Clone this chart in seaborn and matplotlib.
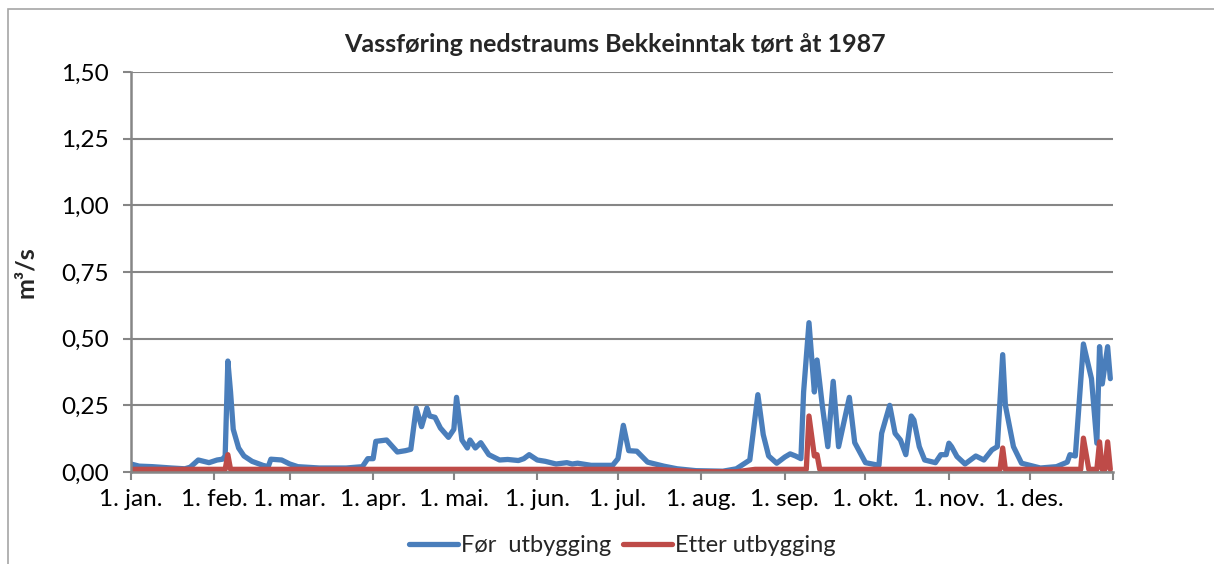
import matplotlib
matplotlib.use("Agg")
import matplotlib.pyplot as plt
import seaborn as sns
import pandas as pd
from matplotlib.lines import Line2D
from matplotlib.patches import Rectangle

# ---- data (day of year 1987, 0 = 1. jan.) ----
month_labels = ["1. jan.", "1. feb.", "1. mar.", "1. apr.", "1. mai.", "1. jun.",
                "1. jul.", "1. aug.", "1. sep.", "1. okt.", "1. nov.", "1. des.", ""]
month_starts = [0, 31, 59, 90, 120, 151, 181, 212, 243, 273, 304, 334, 365]

for_days = [0, 3, 8, 15, 20, 22, 25, 29, 32, 34, 35, 36, 37, 38, 40, 42, 45, 49, 51, 52,
            56, 59, 62, 70, 80, 86, 88, 90, 91, 95, 99, 102, 104, 106, 108, 110, 111, 113,
            115, 118, 120, 121, 123, 125, 126, 128, 130, 133, 137, 140, 144, 146, 148, 151,
            154, 158, 162, 164, 166, 171, 179, 181, 183, 185, 188, 192, 198, 203, 210, 220,
            225, 230, 233, 235, 237, 240, 243, 245, 247, 249, 250, 252, 254, 255, 257, 259,
            261, 263, 267, 269, 273, 278, 279, 282, 284, 286, 288, 290, 291, 293, 295, 299,
            301, 303, 304, 305, 307, 310, 314, 317, 320, 322, 324, 325, 328, 331, 338, 344,
            348, 349, 351, 354, 357, 359, 360, 361, 363, 364]
for_vals = [0.030, 0.022, 0.020, 0.015, 0.012, 0.018, 0.045, 0.035, 0.045, 0.048, 0.060,
            0.416, 0.300, 0.160, 0.090, 0.060, 0.040, 0.025, 0.020, 0.048, 0.045, 0.030,
            0.020, 0.015, 0.015, 0.020, 0.050, 0.050, 0.115, 0.120, 0.075, 0.080, 0.085,
            0.240, 0.170, 0.240, 0.210, 0.205, 0.165, 0.130, 0.160, 0.280, 0.120, 0.090,
            0.120, 0.090, 0.110, 0.065, 0.045, 0.047, 0.043, 0.050, 0.065, 0.045, 0.040,
            0.030, 0.035, 0.030, 0.033, 0.025, 0.025, 0.050, 0.175, 0.080, 0.078, 0.037,
            0.022, 0.012, 0.005, 0.003, 0.012, 0.045, 0.290, 0.140, 0.060, 0.033, 0.056,
            0.068, 0.060, 0.050, 0.300, 0.560, 0.300, 0.420, 0.245, 0.095, 0.340, 0.095,
            0.280, 0.110, 0.035, 0.025, 0.145, 0.250, 0.145, 0.120, 0.065, 0.210, 0.195,
            0.095, 0.045, 0.035, 0.065, 0.065, 0.108, 0.095, 0.058, 0.030, 0.060, 0.045,
            0.083, 0.095, 0.440, 0.250, 0.095, 0.033, 0.015, 0.020, 0.037, 0.065, 0.060,
            0.480, 0.350, 0.108, 0.470, 0.330, 0.470, 0.350]

etter_days = [0, 35, 36, 37, 195, 210, 225, 232, 251, 252, 254, 255, 256, 323, 324, 325,
              353, 354, 356, 359, 360, 361, 362, 363, 364]
etter_vals = [0.010, 0.010, 0.065, 0.010, 0.010, 0.001, 0.001, 0.010, 0.010, 0.210, 0.060,
              0.065, 0.010, 0.010, 0.090, 0.010, 0.010, 0.127, 0.010, 0.010, 0.113, 0.010,
              0.010, 0.113, 0.010]

series_names = ["Før  utbygging", "Etter utbygging"]
colors = ["#4a7ebb", "#be4b48"]

df = pd.concat([
    pd.DataFrame({"dag": for_days, "verdi": for_vals, "serie": series_names[0]}),
    pd.DataFrame({"dag": etter_days, "verdi": etter_vals, "serie": series_names[1]}),
])

sns.set_theme(style="white")
plt.rcParams["font.family"] = ["Lato", "DejaVu Sans"]

fig = plt.figure(figsize=(12.14, 5.64), dpi=100)
ax = fig.add_axes([131 / 1214, 1 - 472 / 564, (1113 - 131) / 1214, 400 / 564])

grid_c = "#868686"
lw = 3.8
sns.lineplot(data=df, x="dag", y="verdi", hue="serie", palette=dict(zip(series_names, colors)),
             estimator=None, sort=True, linewidth=lw, ax=ax, legend=False)

ax.set_xlim(0, 365)
ax.set_ylim(0, 1.5)
yt = [0, 0.25, 0.5, 0.75, 1.0, 1.25, 1.5]
ax.set_yticks(yt)
ax.set_yticklabels([f"{v:.2f}".replace(".", ",") for v in yt])
ax.set_xticks(month_starts)
ax.set_xticklabels(month_labels)
ax.yaxis.grid(True, color=grid_c, linewidth=1.5)
ax.set_axisbelow(True)
for s in ["top", "right"]:
    ax.spines[s].set_visible(False)
for s in ["left", "bottom"]:
    ax.spines[s].set_color(grid_c)
    ax.spines[s].set_linewidth(1.8)
ax.tick_params(axis="both", which="both", direction="out", length=6, width=1.5,
               color=grid_c, labelsize=17.5, labelcolor="black",
               bottom=True, left=True)
ax.tick_params(axis="y", pad=10)
ax.tick_params(axis="x", pad=6)
ax.set_xlabel("")
ax.set_ylabel("m³/s", fontsize=18, fontweight="bold")
ax.yaxis.set_label_coords((37 - 131) / (1113 - 131), 0.5)

fig.text(615 / 1214, 1 - 45 / 564, "Vassføring nedstraums Bekkeinntak tørt åt 1987",
         ha="center", va="center", fontsize=18, fontweight="bold")

handles = [Line2D([], [], color=c, linewidth=lw) for c in colors]
fig.legend(handles, series_names, loc="center", bbox_to_anchor=(622 / 1214, 1 - 546 / 564),
           ncol=2, frameon=False, fontsize=17, handlelength=2.1, handletextpad=0.1,
           columnspacing=0.5)

fig.add_artist(Rectangle((8 / 1214, -0.1), 1.2, 1.1 - 9 / 564, transform=fig.transFigure,
                         fill=False, edgecolor="#a6a6a6", linewidth=1.2))

fig.savefig("out.png", dpi=100)
